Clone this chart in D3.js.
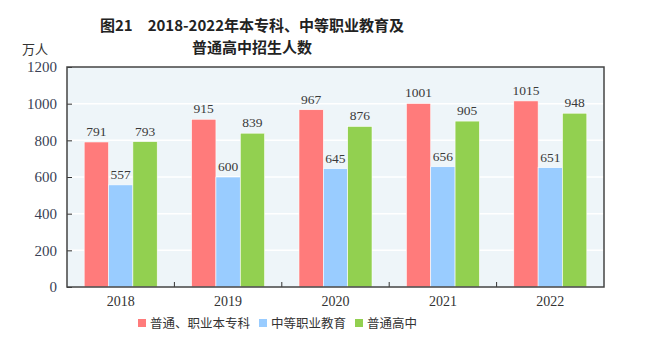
<!DOCTYPE html>
<html>
<head>
<meta charset="utf-8">
<script src="https://cdn.jsdelivr.net/npm/d3@7"></script>
<style>
  body { margin: 0; background: #fff; }
  svg { display: block; }
</style>
</head>
<body>
<div id="chart"></div>
<script>
const years = ['2018', '2019', '2020', '2021', '2022'];
const seriesNames = ['普通、职业本专科', '中等职业教育', '普通高中'];
const higherEd = [791, 915, 967, 1001, 1015];
const vocational = [557, 600, 645, 656, 651];
const highSchool = [793, 839, 876, 905, 948];
const yTicks = [0, 200, 400, 600, 800, 1000, 1200];
const colors = ['#ff7b7b', '#99ccff', '#92d050'];

const W = 650, H = 351;
const margin = {top: 67, right: 46, bottom: 64, left: 67};
const width = W - margin.left - margin.right;
const height = H - margin.top - margin.bottom;
const serif = '"Liberation Serif", "DejaVu Serif", serif';
const cjk = '"Noto Sans CJK SC", sans-serif';

const svg = d3.select('#chart').append('svg')
    .attr('width', W).attr('height', H);

// title
const title = svg.append('text')
    .attr('text-anchor', 'middle')
    .style('font-family', cjk).style('font-weight', 'bold')
    .style('font-size', '15px').attr('fill', '#222');
title.append('tspan').attr('x', 252).attr('y', 31).text('图21　2018-2022年本专科、中等职业教育及');
title.append('tspan').attr('x', 252).attr('y', 53).text('普通高中招生人数');

svg.append('text')
    .attr('x', 22).attr('y', 54)
    .style('font-family', cjk).style('font-size', '13px').attr('fill', '#333')
    .text('万人');

const plot = svg.append('g')
    .attr('transform', 'translate(' + margin.left + ',' + margin.top + ')');

const x = d3.scaleBand().domain(years).range([0, width]).padding(0);
const inner = d3.scaleBand().domain(d3.range(seriesNames.length))
    .range([x.bandwidth() * 0.16, x.bandwidth() * 0.84]);
const y = d3.scaleLinear().domain([0, 1200]).range([height, 0]);

plot.append('rect')
    .attr('width', width).attr('height', height)
    .attr('fill', '#eef5f9');

// gridlines
plot.selectAll('.grid').data(yTicks.slice(1, -1)).enter().append('line')
    .attr('x1', 0).attr('x2', width)
    .attr('y1', d => y(d)).attr('y2', d => y(d))
    .attr('stroke', '#fff').attr('stroke-width', 1.5);

const allSeries = [higherEd, vocational, highSchool];
const groups = plot.selectAll('.year').data(years).enter().append('g')
    .attr('transform', d => 'translate(' + x(d) + ',0)');

groups.each(function(year, i) {
    const g = d3.select(this);
    allSeries.forEach((vals, s) => {
        g.append('rect')
            .attr('x', inner(s))
            .attr('width', inner.bandwidth())
            .attr('y', y(vals[i]))
            .attr('height', height - y(vals[i]))
            .attr('fill', colors[s])
            .attr('stroke', '#fff').attr('stroke-width', 0.6);
        g.append('text')
            .attr('x', inner(s) + inner.bandwidth() / 2)
            .attr('y', y(vals[i]) - 6)
            .attr('text-anchor', 'middle')
            .style('font-family', serif).style('font-size', '13.5px')
            .attr('fill', '#3a3a3a')
            .text(vals[i]);
    });
});

// y axis
const yAxis = plot.append('g')
    .call(d3.axisLeft(y).tickValues(yTicks).tickFormat(d3.format('d')).tickSize(-5).tickPadding(10));
yAxis.select('.domain').remove();
yAxis.selectAll('line').attr('stroke', '#333');
yAxis.selectAll('text').style('font-family', serif).style('font-size', '15px').attr('fill', '#3a3f55');

// x axis: labels
const xAxis = plot.append('g')
    .attr('transform', 'translate(0,' + height + ')')
    .call(d3.axisBottom(x).tickSize(0).tickPadding(9));
xAxis.select('.domain').remove();
xAxis.selectAll('text').style('font-family', serif).style('font-size', '14px').attr('fill', '#333');

// inner ticks between groups
plot.selectAll('.xtick').data(years.slice(1)).enter().append('line')
    .attr('x1', d => x(d)).attr('x2', d => x(d))
    .attr('y1', height).attr('y2', height - 5)
    .attr('stroke', '#333');

// frame
plot.append('rect')
    .attr('width', width).attr('height', height)
    .attr('fill', 'none').attr('stroke', '#444').attr('stroke-width', 1.5);

// legend
const legendX = [138, 259, 355];
const legend = svg.selectAll('.legend').data(seriesNames).enter().append('g')
    .attr('transform', (d, i) => 'translate(' + legendX[i] + ',319)');
legend.append('rect')
    .attr('width', 8).attr('height', 8)
    .attr('fill', (d, i) => colors[i]);
legend.append('text')
    .attr('x', 12).attr('y', 9)
    .style('font-family', cjk).style('font-size', '12.5px').attr('fill', '#333')
    .text(d => d);
</script>
</body>
</html>
